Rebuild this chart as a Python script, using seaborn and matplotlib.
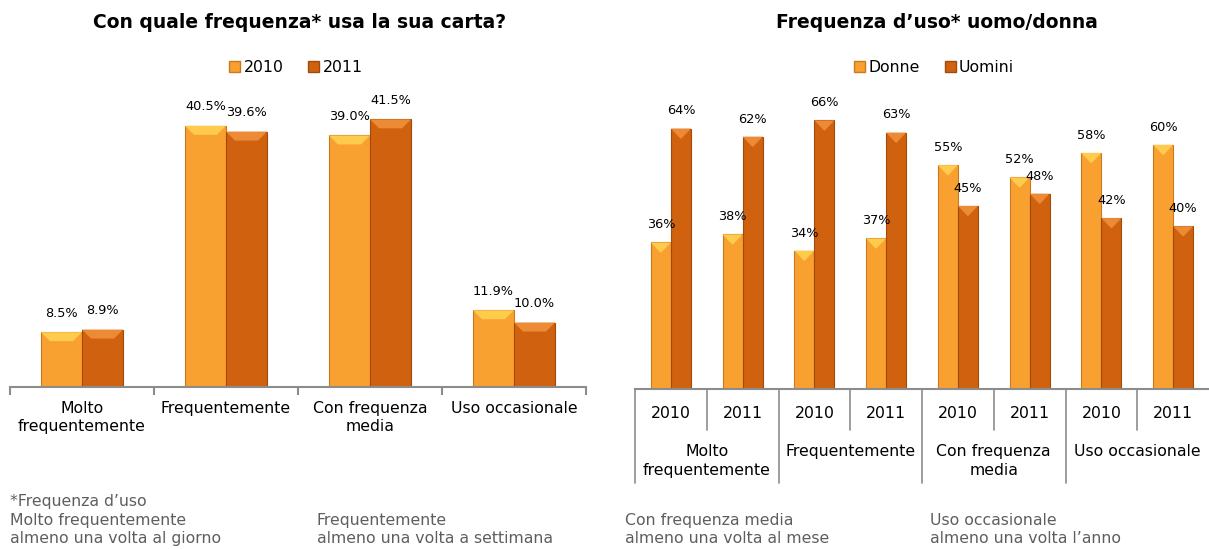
import matplotlib
matplotlib.use("Agg")
import matplotlib.pyplot as plt
import matplotlib.transforms as mtransforms
from matplotlib.patches import Patch, Polygon
import seaborn as sns
import pandas as pd

# ---------------- data ----------------
categories = ["Molto\nfrequentemente", "Frequentemente", "Con frequenza\nmedia", "Uso occasionale"]
years = ["2010", "2011"]
values_2010 = [8.5, 40.5, 39.0, 11.9]
values_2011 = [8.9, 39.6, 41.5, 10.0]

genders = ["Donne", "Uomini"]
right_years = ["2010", "2011", "2010", "2011", "2010", "2011", "2010", "2011"]
donne = [36, 38, 34, 37, 55, 52, 58, 60]
uomini = [64, 62, 66, 63, 45, 48, 42, 40]

title_left = "Con quale frequenza* usa la sua carta?"
title_right = "Frequenza d\u2019uso* uomo/donna"

footnotes = [
    ("*Frequenza d\u2019uso\nMolto frequentemente\nalmeno una volta al giorno", 10),
    ("Frequentemente\nalmeno una volta a settimana", 317),
    ("Con frequenza media\nalmeno una volta al mese", 625),
    ("Uso occasionale\nalmeno una volta l\u2019anno", 930),
]

# ---------------- style ----------------
sns.set_theme(style="white", rc={"text.color": "black", "xtick.color": "black",
                                 "axes.labelcolor": "black"})
plt.rcParams["font.family"] = ["DejaVu Sans"]

C_LIGHT = "#F8A030"
C_DARK = "#D0620F"
EDGE_LIGHT = "#C97A1E"
EDGE_DARK = "#A04A0C"
BEV_LIGHT = "#FFCB4C"
BEV_DARK = "#EC8A36"
AX_COLOR = "#8C8C8C"
FOOT_COLOR = "#5E5E5E"
TICK_FS = 11.3
VAL_FS = 9.3
TITLE_FS = 13.5

W, H = 1209, 549
fig = plt.figure(figsize=(W / 100, H / 100), dpi=100)

def fx(px):
    return px / W

def fy(py):
    return 1 - py / H

def add_bevel(ax, patches, n_first, px_x, px_y, bev_px=9):
    for i, p in enumerate(patches):
        x0, w, h = p.get_x(), p.get_width(), p.get_height()
        dx = min(bev_px / px_x, w / 2 * 0.95)
        dy = bev_px / px_y
        poly = Polygon([(x0, h), (x0 + w, h), (x0 + w - dx, h - dy), (x0 + dx, h - dy)],
                       closed=True, facecolor=BEV_LIGHT if i < n_first else BEV_DARK,
                       edgecolor="none", zorder=p.get_zorder() + 0.1)
        ax.add_patch(poly)

# ---------------- left chart ----------------
L_AX_H = 387 - 96.75
ax1 = fig.add_axes([fx(10), fy(387), fx(576), L_AX_H / H])
df1 = pd.DataFrame({
    "cat": categories * 2,
    "year": [years[0]] * 4 + [years[1]] * 4,
    "val": values_2010 + values_2011,
})
sns.barplot(data=df1, x="cat", y="val", hue="year", order=categories, hue_order=years,
            palette=[C_LIGHT, C_DARK], saturation=1, width=0.57, ax=ax1, legend=False,
            edgecolor=None, linewidth=0)
bars1 = list(ax1.patches)
for i, bar in enumerate(bars1):
    bar.set_edgecolor(EDGE_LIGHT if i < 4 else EDGE_DARK)
    bar.set_linewidth(0.8)
ax1.set_xlim(-0.5, 3.5)
ax1.set_ylim(0, 45)
add_bevel(ax1, bars1, 4, 144.0, L_AX_H / 45)
for c in ax1.containers:
    ax1.bar_label(c, labels=[f"{v:.1f}%" for v in c.datavalues], padding=9, fontsize=VAL_FS)
ax1.set_xlabel("")
ax1.set_ylabel("")
ax1.set_yticks([])
for s in ["left", "right", "top"]:
    ax1.spines[s].set_visible(False)
ax1.spines["bottom"].set_color(AX_COLOR)
ax1.spines["bottom"].set_linewidth(1.5)
ax1.set_xticks(range(4))
ax1.set_xticklabels(categories, fontsize=TICK_FS, linespacing=1.3)
ax1.set_xticks([-0.5, 0.5, 1.5, 2.5, 3.5], minor=True)
ax1.tick_params(axis="x", which="major", length=0, pad=10)
ax1.tick_params(axis="x", which="minor", length=6, width=1.5, color=AX_COLOR, bottom=True)

fig.text(fx(300), fy(22), title_left, ha="center", va="center", fontsize=TITLE_FS, fontweight="bold")
fig.legend(handles=[Patch(facecolor=C_LIGHT, edgecolor=EDGE_LIGHT), Patch(facecolor=C_DARK, edgecolor=EDGE_DARK)],
           labels=years, loc="center", bbox_to_anchor=(fx(296), fy(67)), ncol=2, frameon=False,
           fontsize=TICK_FS, handlelength=0.7, handleheight=0.7, handletextpad=0.2, columnspacing=1.6)

# ---------------- right chart ----------------
R_AX_H = 70 * 4.07
ax2 = fig.add_axes([fx(635), fy(389), fx(574), R_AX_H / H])
xkeys = [f"g{i}" for i in range(8)]
df2 = pd.DataFrame({
    "key": xkeys * 2,
    "sex": [genders[0]] * 8 + [genders[1]] * 8,
    "val": donne + uomini,
})
sns.barplot(data=df2, x="key", y="val", hue="sex", order=xkeys, hue_order=genders,
            palette=[C_LIGHT, C_DARK], saturation=1, width=0.56, ax=ax2, legend=False,
            edgecolor=None, linewidth=0)
bars2 = list(ax2.patches)
for i, bar in enumerate(bars2):
    bar.set_edgecolor(EDGE_LIGHT if i < 8 else EDGE_DARK)
    bar.set_linewidth(0.8)
ax2.set_xlim(-0.5, 7.5)
ax2.set_ylim(0, 70)
add_bevel(ax2, bars2, 8, 574 / 8, 4.07, bev_px=10)
for c in ax2.containers:
    ax2.bar_label(c, labels=[f"{v:.0f}%" for v in c.datavalues], padding=8, fontsize=VAL_FS)
ax2.set_xlabel("")
ax2.set_ylabel("")
ax2.set_yticks([])
for s in ["left", "right", "top"]:
    ax2.spines[s].set_visible(False)
ax2.spines["bottom"].set_color(AX_COLOR)
ax2.spines["bottom"].set_linewidth(1.5)
ax2.set_xticks(range(8))
ax2.set_xticklabels(right_years, fontsize=TICK_FS)
ax2.tick_params(axis="x", which="major", length=0, pad=12)

trans = mtransforms.blended_transform_factory(ax2.transData, ax2.transAxes)
for b in [0.5, 2.5, 4.5, 6.5]:
    ax2.plot([b, b], [0, -41 / R_AX_H], transform=trans, color=AX_COLOR, lw=1.2, clip_on=False)
for b in [-0.5, 1.5, 3.5, 5.5]:
    ax2.plot([b, b], [0, -94 / R_AX_H], transform=trans, color=AX_COLOR, lw=1.2, clip_on=False)
for gi, cat in enumerate(categories):
    ax2.text(gi * 2 + 0.5, -55 / R_AX_H, cat, transform=trans, ha="center", va="top",
             fontsize=TICK_FS, linespacing=1.3)

fig.text(fx(937), fy(22), title_right, ha="center", va="center", fontsize=TITLE_FS, fontweight="bold")
fig.legend(handles=[Patch(facecolor=C_LIGHT, edgecolor=EDGE_LIGHT), Patch(facecolor=C_DARK, edgecolor=EDGE_DARK)],
           labels=genders, loc="center", bbox_to_anchor=(fx(934), fy(67)), ncol=2, frameon=False,
           fontsize=TICK_FS, handlelength=0.7, handleheight=0.7, handletextpad=0.2, columnspacing=1.6)

# ---------------- footnotes ----------------
for txt, xpx in footnotes:
    fig.text(fx(xpx), fy(546), txt, ha="left", va="bottom", fontsize=TICK_FS,
             color=FOOT_COLOR, linespacing=1.28)

fig.savefig("out.png", dpi=100)
